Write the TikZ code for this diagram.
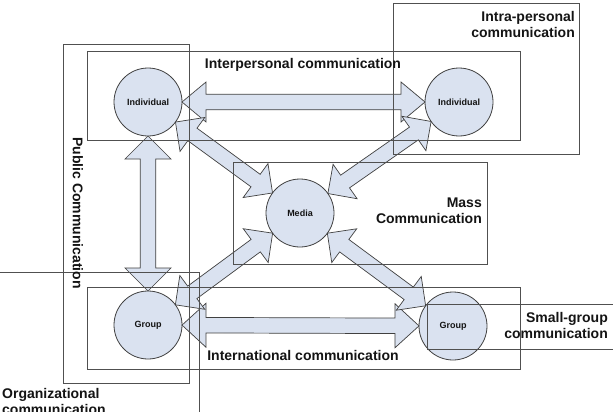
\documentclass[tikz,border=0pt]{standalone}
\usepackage{fontspec}
\setmainfont{Liberation Sans}
\usetikzlibrary{calc}
\definecolor{fillblue}{RGB}{218,226,240}
\definecolor{edge}{RGB}{64,64,64}
\definecolor{boxline}{RGB}{80,80,80}
\definecolor{txt}{RGB}{20,20,20}
\tikzset{
  person/.style={circle,draw=edge,fill=fillblue,line width=0.8pt,minimum size=68pt,inner sep=0pt,
    font=\fontsize{9}{10}\selectfont\bfseries,text=txt},
  arr/.style={draw=edge,fill=fillblue,line width=0.7pt,line join=miter},
  frame/.style={draw=boxline,line width=0.8pt},
  lbl/.style={font=\fontsize{14}{16}\selectfont\bfseries,text=txt,inner sep=0pt}
}
\newcommand\blk[4]{%
  \path coordinate (p) at ($(#1.center)!34pt!(#2.center)$)
        coordinate (q) at ($(#2.center)!34pt!(#1.center)$);
  \draw[arr] (p) -- ($(p)!#3!(q)!#4!90:(q)$) -- ($(p)!#3!(q)!7.75pt!90:(q)$)
    -- ($(q)!#3!(p)!7.75pt!-90:(p)$) -- ($(q)!#3!(p)!#4!-90:(p)$) -- (q)
    -- ($(q)!#3!(p)!#4!90:(p)$) -- ($(q)!#3!(p)!7.75pt!90:(p)$)
    -- ($(p)!#3!(q)!7.75pt!-90:(q)$) -- ($(p)!#3!(q)!#4!-90:(q)$) -- cycle;}
\begin{document}
\begin{tikzpicture}[x=1pt,y=-1pt]
\clip (0,0) rectangle (613,412);
\fill[white] (0,0) rectangle (613,412);
% circles
\node[person] (il) at (148,102) {Individual};
\node[person] (ir) at (459,102) {Individual};
\node[person] (md) at (300,213) {Media};
\node[person] (gl) at (148,325) {Group};
\node[person] (gr) at (453,326) {Group};
% block arrows
\blk{il}{ir}{24pt}{20pt}
\blk{il}{gl}{23pt}{23pt}
\blk{gl}{gr}{24pt}{22pt}
\blk{il}{md}{21pt}{21pt}
\blk{ir}{md}{21pt}{21pt}
\blk{gl}{md}{21pt}{21pt}
\blk{gr}{md}{21pt}{21pt}
% boxes
\draw[frame] (63,44) rectangle (189,383);
\draw[frame] (87,51) rectangle (520,140);
\draw[frame] (393,3) rectangle (579,154);
\draw[frame] (233,162) rectangle (487,264);
\draw[frame] (87,287) rectangle (520,369);
\draw[frame] (427,304) rectangle (620,349);
\draw[frame] (-5,272) rectangle (199,420);
% labels
\node[lbl,anchor=base] (tinter) at (303,68) {Interpersonal communication};
\node[lbl,anchor=base] (tintl) at (303,360) {International communication};
\node[lbl,anchor=north east,align=right] (tintra) at (575,11) {Intra-personal\\communication};
\node[lbl,anchor=north east,align=right] (tmass) at (482,198) {Mass\\Communication};
\node[lbl,anchor=north east,align=right] (tsmall) at (608,312) {Small-group\\communication};
\node[lbl,anchor=north west,align=left] (torg) at (2,388) {Organizational\\communication};
\node[lbl,rotate=-90] (tpub) at (78,213) {Public Communication};
\end{tikzpicture}
\end{document}
